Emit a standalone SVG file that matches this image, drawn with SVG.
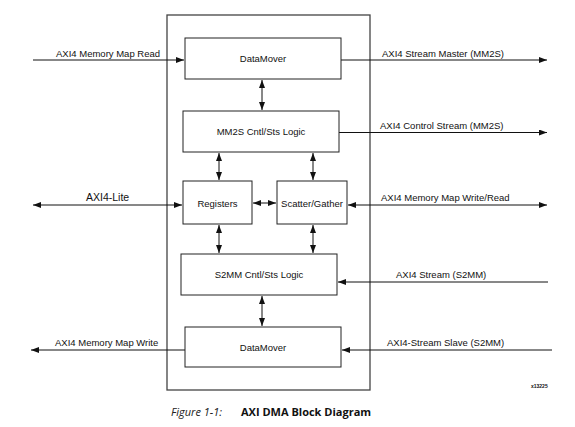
<svg xmlns="http://www.w3.org/2000/svg" width="575" height="427" viewBox="0 0 575 427">
<style>
.box{fill:#fff;stroke:#222;stroke-width:1}
.outer{fill:none;stroke:#444;stroke-width:1.3}
.ln{stroke:#111;stroke-width:1;fill:none}
.t{font-family:"Liberation Sans",Arial,sans-serif;font-size:9.5px;fill:#111}
.c{text-anchor:middle}
</style>
<defs>
<marker id="ah" viewBox="0 0 8 6" refX="8" refY="3" markerWidth="8" markerHeight="6" markerUnits="userSpaceOnUse" orient="auto-start-reverse">
<path d="M0,0 L8,3 L0,6 z" fill="#111"/>
</marker>
</defs>
<rect width="575" height="427" fill="#fff"/>
<rect class="outer" x="167" y="15" width="203" height="375"/>
<g id="connectors">
<line class="ln" x1="33" y1="60" x2="184" y2="60" marker-end="url(#ah)"/>
<line class="ln" x1="341" y1="60" x2="547" y2="60" marker-end="url(#ah)"/>
<line class="ln" x1="262" y1="80" x2="262" y2="110" marker-start="url(#ah)" marker-end="url(#ah)"/>
<line class="ln" x1="339" y1="132.5" x2="547" y2="132.5" marker-end="url(#ah)"/>
<line class="ln" x1="219" y1="153" x2="219" y2="180" marker-start="url(#ah)" marker-end="url(#ah)"/>
<line class="ln" x1="313" y1="153" x2="313" y2="180" marker-start="url(#ah)" marker-end="url(#ah)"/>
<line class="ln" x1="33" y1="205" x2="182" y2="205" marker-start="url(#ah)" marker-end="url(#ah)"/>
<line class="ln" x1="253" y1="203" x2="276" y2="203" marker-start="url(#ah)" marker-end="url(#ah)"/>
<line class="ln" x1="348" y1="205" x2="547" y2="205" marker-start="url(#ah)" marker-end="url(#ah)"/>
<line class="ln" x1="219" y1="225" x2="219" y2="253" marker-start="url(#ah)" marker-end="url(#ah)"/>
<line class="ln" x1="313" y1="225" x2="313" y2="253" marker-start="url(#ah)" marker-end="url(#ah)"/>
<line class="ln" x1="548" y1="282" x2="338" y2="282" marker-end="url(#ah)"/>
<line class="ln" x1="262" y1="296" x2="262" y2="326" marker-start="url(#ah)" marker-end="url(#ah)"/>
<line class="ln" x1="185" y1="350" x2="31" y2="350" marker-end="url(#ah)"/>
<line class="ln" x1="552" y1="350" x2="342" y2="350" marker-end="url(#ah)"/>
<text class="t" x="56" y="57">AXI4 Memory Map Read</text>
<text class="t" x="382" y="57">AXI4 Stream Master (MM2S)</text>
<text class="t" x="380" y="129">AXI4 Control Stream (MM2S)</text>
<text class="t" x="86" y="201" style="font-size:10.5px">AXI4-Lite</text>
<text class="t" x="381" y="201">AXI4 Memory Map Write/Read</text>
<text class="t" x="396" y="278">AXI4 Stream (S2MM)</text>
<text class="t" x="55" y="346">AXI4 Memory Map Write</text>
<text class="t" x="387" y="346">AXI4-Stream Slave (S2MM)</text>
</g>
<g id="datamover-top">
<rect class="box" x="185" y="38" width="156" height="41"/>
<text class="t c" x="263" y="62">DataMover</text>
</g>
<g id="mm2s">
<rect class="box" x="183" y="111" width="156" height="41"/>
<text class="t c" x="261" y="135">MM2S Cntl/Sts Logic</text>
</g>
<g id="registers">
<rect class="box" x="183" y="181" width="69" height="43"/>
<text class="t c" x="217.5" y="207">Registers</text>
</g>
<g id="scatter-gather">
<rect class="box" x="277" y="181" width="70" height="43"/>
<text class="t c" x="312" y="207">Scatter/Gather</text>
</g>
<g id="s2mm">
<rect class="box" x="181" y="254" width="156" height="41"/>
<text class="t c" x="259" y="278">S2MM Cntl/Sts Logic</text>
</g>
<g id="datamover-bottom">
<rect class="box" x="185" y="327" width="156" height="40"/>
<text class="t c" x="263" y="351">DataMover</text>
</g>
<text x="531" y="388" style="font-family:'Liberation Sans',Arial,sans-serif;font-size:5px;font-weight:bold;fill:#111">x13225</text>
<text x="171" y="416" style="font-family:'Open Sans','Liberation Sans',sans-serif;font-size:11px;font-style:italic;fill:#222">Figure 1-1:</text>
<text x="241" y="416" style="font-family:'Open Sans','Liberation Sans',sans-serif;font-size:11px;font-weight:bold;fill:#111">AXI DMA Block Diagram</text>
</svg>
